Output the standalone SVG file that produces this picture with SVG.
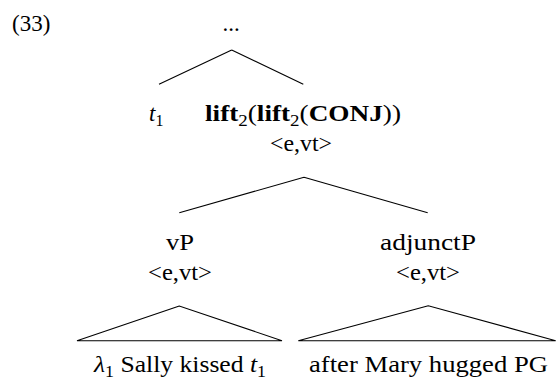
<svg xmlns="http://www.w3.org/2000/svg" width="557" height="386" viewBox="0 0 557 386">
<style>
text{font-family:"Liberation Serif","Times New Roman",serif;font-size:23px;fill:#000}
.b{font-weight:bold}
.i{font-style:italic}
.sub{font-size:16px;font-weight:normal;font-style:normal}
.edge{stroke:#000;stroke-width:1.1;fill:none}
</style>
<rect width="557" height="386" fill="#fff"/>
<text id="label33" x="12" y="31">(33)</text>
<g id="connectors">
<path class="edge" d="M231.7,50 L159,84.3 M231.7,50 L303.3,84.3"/>
<path class="edge" d="M304,177.3 L179.3,212.7 M304,177.3 L427.7,212.7"/>
<path class="edge" d="M179.3,306 L77,340.7 L282,340.7 Z"/>
<path class="edge" d="M428.3,305.7 L298.3,340.7 L555.7,340.7 Z"/>
</g>
<g id="root"><text x="231" y="31" text-anchor="middle">...</text></g>
<g id="t1"><text x="149" y="121"><tspan class="i">t</tspan><tspan class="sub" dy="5">1</tspan></text></g>
<g id="conj">
<text x="205" y="121" textLength="196" lengthAdjust="spacingAndGlyphs"><tspan class="b">lift</tspan><tspan class="sub" dy="5">2</tspan><tspan dy="-5">(</tspan><tspan class="b">lift</tspan><tspan class="sub" dy="5">2</tspan><tspan dy="-5">(</tspan><tspan class="b">CONJ</tspan>))</text>
<text x="301" y="151" text-anchor="middle" textLength="62" lengthAdjust="spacingAndGlyphs">&lt;e,vt&gt;</text>
</g>
<g id="vP">
<text x="180" y="250" text-anchor="middle" textLength="28" lengthAdjust="spacingAndGlyphs">vP</text>
<text x="180" y="280" text-anchor="middle" textLength="64" lengthAdjust="spacingAndGlyphs">&lt;e,vt&gt;</text>
</g>
<g id="adjunctP">
<text x="428" y="250" text-anchor="middle" textLength="96" lengthAdjust="spacingAndGlyphs">adjunctP</text>
<text x="428" y="280" text-anchor="middle" textLength="64" lengthAdjust="spacingAndGlyphs">&lt;e,vt&gt;</text>
</g>
<g id="vP-leaf">
<text x="94" y="372" textLength="172" lengthAdjust="spacingAndGlyphs"><tspan class="i">λ</tspan><tspan class="sub" dy="5">1</tspan><tspan dy="-5"> Sally kissed </tspan><tspan class="i">t</tspan><tspan class="sub" dy="5">1</tspan></text>
</g>
<g id="adjunctP-leaf">
<text x="309" y="372" textLength="239" lengthAdjust="spacingAndGlyphs">after Mary hugged PG</text>
</g>
</svg>
